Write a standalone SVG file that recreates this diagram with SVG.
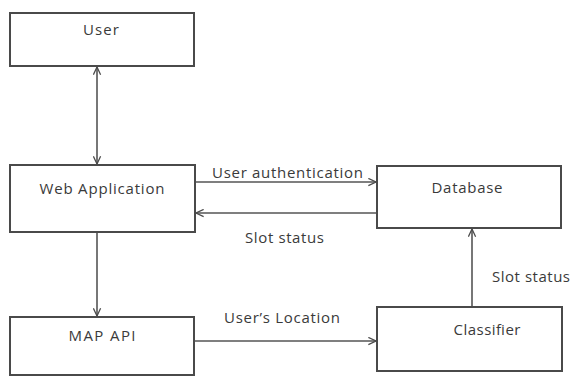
<svg xmlns="http://www.w3.org/2000/svg" width="571" height="376" viewBox="0 0 571 376">
<defs>
<marker id="arr" viewBox="0 0 10 10" refX="9.5" refY="5" markerWidth="9" markerHeight="9" markerUnits="userSpaceOnUse" orient="auto-start-reverse">
<path d="M1,1 L9.5,5 L1,9" fill="none" stroke="#4a4a4a" stroke-width="1.4"/>
</marker>
</defs>
<style>
.box{fill:#fff;stroke:#4a4a4a;stroke-width:2}
.lbl{font-family:"Open Sans","Liberation Sans",sans-serif;font-size:15px;fill:#3a3a3a;lengthAdjust:spacingAndGlyphs}
.ln{stroke:#555;stroke-width:1.6;fill:none;marker-end:url(#arr)}
</style>
<rect width="571" height="376" fill="#fff"/>
<g id="user"><rect class="box" x="10" y="13" width="184" height="53"/><text class="lbl" x="101" y="35" text-anchor="middle" textLength="36">User</text></g>
<g id="webapp"><rect class="box" x="10" y="165" width="185" height="67"/><text class="lbl" x="102" y="194" text-anchor="middle" textLength="125">Web Application</text></g>
<g id="database"><rect class="box" x="377" y="166" width="184" height="62"/><text class="lbl" x="467" y="193" text-anchor="middle" textLength="71">Database</text></g>
<g id="mapapi"><rect class="box" x="10" y="317" width="184" height="58"/><text class="lbl" x="102" y="341" text-anchor="middle" textLength="67">MAP API</text></g>
<g id="classifier"><rect class="box" x="377" y="307" width="185" height="64"/><text class="lbl" x="487" y="335" text-anchor="middle" textLength="67">Classifier</text></g>
<g id="connectors">
<line class="ln" x1="97" y1="67" x2="97" y2="164" marker-start="url(#arr)"/>
<line class="ln" x1="97" y1="233" x2="97" y2="316"/>
<line class="ln" x1="196" y1="182" x2="376" y2="182"/>
<line class="ln" x1="376" y1="213" x2="196" y2="213"/>
<line class="ln" x1="195" y1="341" x2="376" y2="341"/>
<line class="ln" x1="472" y1="306" x2="472" y2="229"/>
<text class="lbl" x="212" y="178" textLength="151">User authentication</text>
<text class="lbl" x="245" y="243" textLength="79">Slot status</text>
<text class="lbl" x="224" y="323" textLength="116">User’s Location</text>
<text class="lbl" x="492" y="282" textLength="78">Slot status</text>
</g>
</svg>
